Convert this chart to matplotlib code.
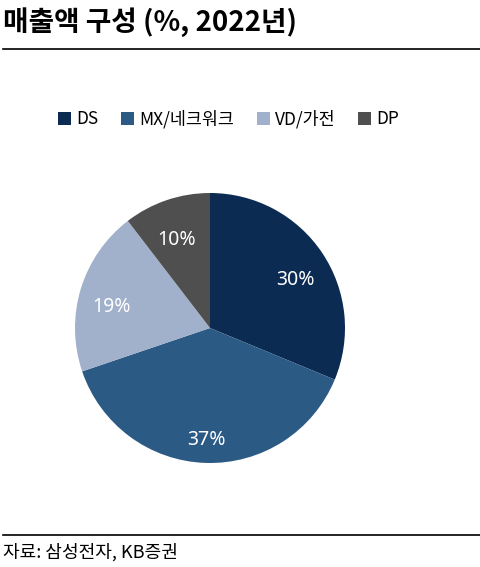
import matplotlib
matplotlib.use("Agg")
import matplotlib.pyplot as plt
from matplotlib.lines import Line2D
from matplotlib.patches import Patch
from matplotlib.transforms import offset_copy

plt.rcParams['font.family'] = ['Noto Sans CJK KR', 'DejaVu Sans']

# data (매출액 구성, 2022)
segments = ["DS", "MX/네크워크", "VD/가전", "DP"]
shares = [30, 37, 19, 10]
colors = ["#0c2b53", "#2b5a85", "#a2b1cb", "#4f4f4f"]

W, H = 481, 567
fig = plt.figure(figsize=(W / 100, H / 100), dpi=100)

# title + rules
fig.text(3 / W, 1 - 22 / H, "매출액 구성 (%, 2022년)", fontsize=20, fontweight="bold",
         ha="left", va="center", color="black")
fig.add_artist(Line2D([3 / W, 480 / W], [1 - 49 / H, 1 - 49 / H], color="black", lw=1.2))
fig.add_artist(Line2D([3 / W, 480 / W], [1 - 535 / H, 1 - 535 / H], color="black", lw=1.2))
fig.text(3 / W, 1 - 552 / H, "자료: 삼성전자, KB증권", fontsize=13, ha="left", va="center")

# pie
ax = fig.add_axes([75 / W, 1 - 463 / H, 270 / W, 270 / H])
total = sum(shares)
wedges, texts, autotexts = ax.pie(
    shares, colors=colors, startangle=90, counterclock=False,
    autopct=lambda p: f"{round(p * total / 100):.0f}%", pctdistance=0.76,
    textprops=dict(color="white", fontsize=14, family=["Noto Sans"]),
)
ax.set_xlim(-1, 1)
ax.set_ylim(-1, 1)
ax.set_aspect("equal")
# labels sit a little lower in the original
for t in autotexts:
    t.set_transform(offset_copy(ax.transData, fig=fig, x=0, y=-9, units="dots"))

handles = [Patch(facecolor=c, edgecolor="none") for c in colors]
fig.legend(handles, segments, loc="center", bbox_to_anchor=(229 / W, 1 - 119 / H),
           ncol=4, frameon=False, fontsize=12.5, handlelength=0.75, handleheight=0.75,
           handletextpad=0.3, columnspacing=1.3)

fig.savefig("out.png", dpi=100)
